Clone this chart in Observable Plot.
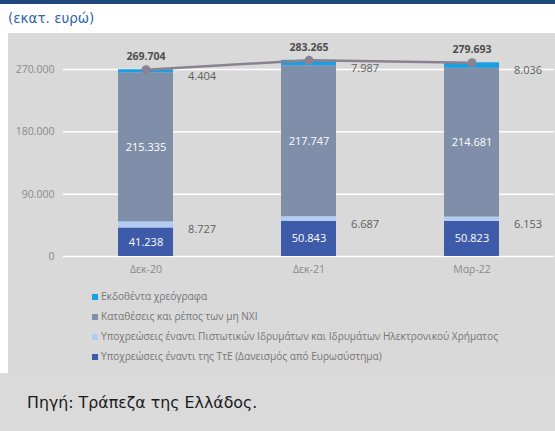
<!DOCTYPE html>
<html>
<head>
<meta charset="utf-8">
<script src="https://cdn.jsdelivr.net/npm/d3@7"></script>
<script src="https://cdn.jsdelivr.net/npm/@observablehq/plot@0.6"></script>
<style>
  html, body { margin: 0; padding: 0; background: #fff; }
  #page { position: relative; width: 555px; height: 431px; overflow: hidden; background: #fff; font-family: "Open Sans", "Noto Sans", sans-serif; }
  #topbar { position: absolute; left: 0; top: 0; width: 555px; height: 4px; background: #1f497d; }
  #title { position: absolute; left: 8px; top: 9px; font-family: "DejaVu Sans", sans-serif; font-size: 13.5px; line-height: 18px; color: #2f64a8; }
  #panel { position: absolute; left: 8px; top: 33px; width: 547px; height: 340px; background: #d9d9d9; }
  #chart { position: absolute; left: 0; top: 33px; }
  #legend { position: absolute; left: 92px; top: 288px; font-family: "Open Sans", sans-serif; font-size: 10.1px; color: #767676; }
  #legend .item { height: 20px; line-height: 16px; white-space: nowrap; }
  #legend .sw { display: inline-block; width: 6px; height: 6px; margin-right: 3px; vertical-align: 0px; }
  #bottom { position: absolute; left: 0; top: 373px; width: 555px; height: 58px; background: #dadada; }
  #source { position: absolute; left: 27px; top: 393px; font-family: "DejaVu Sans", sans-serif; font-size: 15.8px; line-height: 20px; color: #1a1a1a; }
</style>
</head>
<body>
<div id="page">
  <div id="topbar"></div>
  <div id="title">(εκατ. ευρώ)</div>
  <div id="panel"></div>
  <div id="chart"></div>
  <div id="legend"></div>
  <div id="bottom"></div>
  <div id="source">Πηγή: Τράπεζα της Ελλάδος.</div>
</div>
<script>
const dates = ["Δεκ-20", "Δεκ-21", "Μαρ-22"];
const seriesNames = [
  "Υποχρεώσεις έναντι της ΤτΕ (Δανεισμός από Ευρωσύστημα)",
  "Υποχρεώσεις έναντι Πιστωτικών Ιδρυμάτων και Ιδρυμάτων Ηλεκτρονικού Χρήματος",
  "Καταθέσεις και ρέπος των μη ΝΧΙ",
  "Εκδοθέντα χρεόγραφα"
];
const seriesColors = ["#3d5ba9", "#b3cdf2", "#7f8ea9", "#1a9fe0"];
const tte = [41238, 50843, 50823];
const creditInst = [8727, 6687, 6153];
const deposits = [215335, 217747, 214681];
const securities = [4404, 7987, 8036];
const totals = [269704, 283265, 279693];
const yTicks = [0, 90000, 180000, 270000];

const seriesValues = [tte, creditInst, deposits, securities];
const data = [];
dates.forEach((d, i) => {
  seriesNames.forEach((s, j) => data.push({date: d, series: s, value: seriesValues[j][i]}));
});
const totalData = dates.map((d, i) => ({date: d, total: totals[i]}));

const loc = d3.formatLocale({decimal: ",", thousands: ".", grouping: [3], currency: ["", "€"]});
const fmt = loc.format(",");

const stackOpts = (extra) => Plot.stackY({x: "date", y: "value", z: "series", order: seriesNames, ...extra});
const labelFor = (names) => (d) => names.includes(d.series) ? fmt(d.value) : "";

const chart = Plot.plot({
  width: 555,
  height: 250,
  marginLeft: 63,
  marginRight: 1,
  marginTop: 36,
  marginBottom: 27,
  style: {background: "transparent", fontFamily: "Open Sans, sans-serif"},
  x: {domain: dates, paddingInner: 0.66, paddingOuter: 0.33, label: null},
  y: {domain: [0, 270000], label: null},
  color: {domain: seriesNames, range: seriesColors},
  marks: [
    Plot.gridY(yTicks, {stroke: "#ffffff", strokeOpacity: 1, strokeWidth: 1.5}),
    Plot.axisY({ticks: yTicks, tickFormat: fmt, tickSize: 0, tickPadding: 9, fontSize: 10.5, fill: "#8a8a8a", label: null}),
    Plot.axisX({tickSize: 0, tickPadding: 9, fontSize: 10.5, fill: "#8a8a8a", label: null}),
    Plot.barY(data, {x: "date", y: "value", fill: "series", order: seriesNames}),
    Plot.text(data, stackOpts({text: labelFor([seriesNames[0], seriesNames[2]]), fill: "#ffffff", fontSize: 11})),
    Plot.text(data, stackOpts({text: labelFor([seriesNames[1], seriesNames[3]]), fill: "#5e5e5e", fontSize: 11, textAnchor: "start", dx: 42, dy: 5})),
    Plot.line(totalData, {x: "date", y: "total", stroke: "#8a8290", strokeWidth: 2.5}),
    Plot.dot(totalData, {x: "date", y: "total", r: 4.5, fill: "#8a8290"}),
    Plot.text(totalData, {x: "date", y: "total", text: d => fmt(d.total), dy: -13, fontWeight: "bold", fill: "#4d4d4d", fontSize: 10.5})
  ]
});
document.getElementById("chart").appendChild(chart);

const legend = document.getElementById("legend");
[3, 2, 1, 0].forEach(j => {
  const item = document.createElement("div");
  item.className = "item";
  const sw = document.createElement("span");
  sw.className = "sw";
  sw.style.background = seriesColors[j];
  item.appendChild(sw);
  item.appendChild(document.createTextNode(seriesNames[j]));
  legend.appendChild(item);
});
</script>
</body>
</html>
